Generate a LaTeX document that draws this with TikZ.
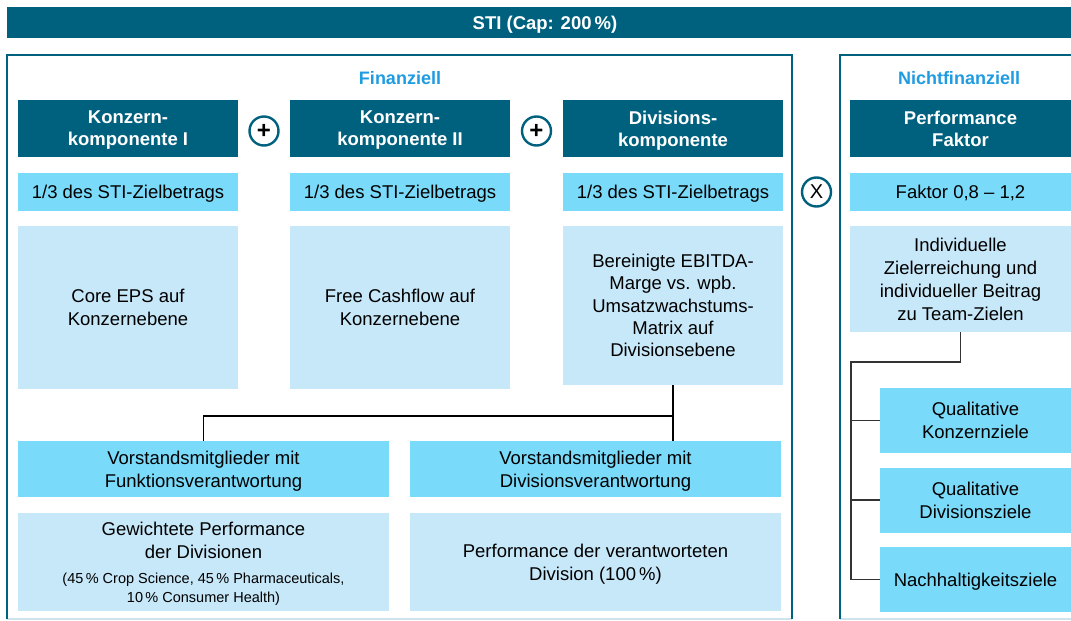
\documentclass[tikz,border=0pt]{standalone}
\usepackage{fontspec}
\setmainfont{Liberation Sans}
\usetikzlibrary{positioning, calc}

\definecolor{stiteal}{RGB}{0,97,127}
\definecolor{sticyan}{RGB}{122,218,250}
\definecolor{stipale}{RGB}{199,232,249}
\definecolor{stiblue}{RGB}{30,155,225}
\definecolor{stiline}{RGB}{205,228,238}

\newcommand*{\smallnote}{\fontsize{14.5}{19}\selectfont}

\tikzset{
  cellbase/.style={inner sep=0pt, outer sep=0pt, align=center, text depth=-4pt, font=\fontsize{18.5}{23}\selectfont},
  headbox/.style={cellbase, fill=stiteal, text=white, minimum width=220pt, minimum height=57pt, font=\fontsize{18.5}{22}\selectfont\bfseries},
  sharebox/.style={cellbase, fill=sticyan, minimum width=220pt, minimum height=38pt},
  goalbox/.style={cellbase, fill=stipale, minimum width=220pt},
  opcircle/.style={circle, draw=stiteal, line width=2.4pt, minimum size=29pt, inner sep=0pt, font=\fontsize{20}{20}\selectfont},
  framebox/.style={inner sep=0pt, outer sep=0pt},
  frameline/.style={draw=stiteal, line width=1.6pt},
  joinline/.style={draw=black, line width=1.3pt},
  treeline/.style={draw=black!80, line width=1.5pt},
  titletext/.style={text=stiblue, font=\fontsize{18}{22}\selectfont\bfseries}
}

\begin{document}
\begin{tikzpicture}[x=1pt, y=1pt]
\useasboundingbox (0,0) rectangle (1071,-621);

% STI bar
\node (sti) [cellbase, fill=stiteal, text=white, minimum width=1076pt, minimum height=31pt, font=\fontsize{18.5}{22}\selectfont\bfseries] at (545,-22.5) {STI (Cap: 200\,\%)};

% frames
\node (fin) [framebox, minimum width=785pt, minimum height=564pt] at (399.5,-337) {};
\node (nonfin) [framebox, minimum width=231pt, minimum height=564pt] at (955.5,-337) {};
\draw[stiline, line width=1.2pt] (fin.south west) -- (fin.south east) (nonfin.south west) -- (nonfin.south east);
\draw[frameline] (fin.south west) -- (fin.north west) -- (fin.north east) -- (fin.south east);
\draw[frameline] (nonfin.south west) -- (nonfin.north west) -- (nonfin.north east);

\node (finT) [titletext] at (400,-78) {Finanziell};
\node (nonfinT) [titletext] at (959,-78) {Nichtfinanziell};

% components
\node (hK1) [headbox] at (128,-128.5) {Konzern-\\komponente I};
\node (hK2) [headbox, right=52pt of hK1] {Konzern-\\komponente II};
\node (hDiv) [headbox, right=53pt of hK2] {Divisions-\\komponente};
\node (hPF) [headbox, minimum width=221pt, right=67pt of hDiv] {Performance\\Faktor};

\node (cK1) [sharebox, below=16pt of hK1] {1/3 des STI-Zielbetrags};
\node (cK2) [sharebox, below=16pt of hK2] {1/3 des STI-Zielbetrags};
\node (cDiv) [sharebox, below=16pt of hDiv] {1/3 des STI-Zielbetrags};
\node (cPF) [sharebox, minimum width=221pt, below=16pt of hPF] {Faktor 0,8 – 1,2};

\node (pK1) [goalbox, minimum height=163pt, below=15pt of cK1] {Core EPS auf\\Konzernebene};
\node (pK2) [goalbox, minimum height=163pt, below=15pt of cK2] {Free Cashflow auf\\Konzernebene};
\node (pDiv) [goalbox, minimum height=159pt, below=15pt of cDiv, font=\fontsize{18.5}{22.25}\selectfont] {Bereinigte EBITDA-\\Marge vs. wpb.\\Umsatzwachstums-\\Matrix auf\\Divisionsebene};
\node (pPF) [goalbox, minimum width=221pt, minimum height=106pt, below=15pt of cPF] {Individuelle\\Zielerreichung und\\individueller Beitrag\\zu Team-Zielen};

% operators
\node (plus1) [opcircle] at ($(hK1.east)!0.5!(hK2.west)+(0,-2.5)$) {\fontsize{24}{24}\selectfont\bfseries +};
\node (plus2) [opcircle] at ($(hK2.east)!0.5!(hDiv.west)+(0,-2.5)$) {\fontsize{24}{24}\selectfont\bfseries +};
\node (times) [opcircle] at ($(cDiv.east)!0.5!(cPF.west)$) {X};

% board members
\node (vL) [cellbase, fill=sticyan, minimum width=371pt, minimum height=56pt] at (203.5,-469) {Vorstandsmitglieder mit\\Funktionsverantwortung};
\node (vR) [cellbase, fill=sticyan, minimum width=371pt, minimum height=56pt, right=21pt of vL] {Vorstandsmitglieder mit\\Divisionsverantwortung};
\node (bL) [cellbase, fill=stipale, minimum width=371pt, minimum height=98pt, below=16pt of vL] {Gewichtete Performance\\der Divisionen\\[2pt]{\smallnote (45\,\% Crop Science, 45\,\% Pharmaceuticals,}\\[-4pt]{\smallnote 10\,\% Consumer Health)}};
\node (bR) [cellbase, fill=stipale, minimum width=371pt, minimum height=98pt, right=21pt of bL] {Performance der verantworteten\\Division (100\,\%)};

\draw[joinline] (pDiv.south) -- (pDiv.south |- vR.north);
\draw[joinline] (pDiv.south) ++(0,-31) -| (vL.north);

% nonfinancial goals
\node (q1) [cellbase, fill=sticyan, minimum width=191pt, minimum height=65pt] at (975.5,-420.5) {Qualitative\\Konzernziele};
\node (q2) [cellbase, fill=sticyan, minimum width=191pt, minimum height=65pt, below=14.5pt of q1] {Qualitative\\Divisionsziele};
\node (q3) [cellbase, fill=sticyan, minimum width=191pt, minimum height=65pt, below=14.5pt of q2] {Nachhaltigkeitsziele};

\coordinate (fork) at (851,-362);
\draw[treeline] (pPF.south) |- (fork) |- (q3.west);
\draw[treeline] (fork |- q1.west) -- (q1.west);
\draw[treeline] (fork |- q2.west) -- (q2.west);

\end{tikzpicture}
\end{document}
